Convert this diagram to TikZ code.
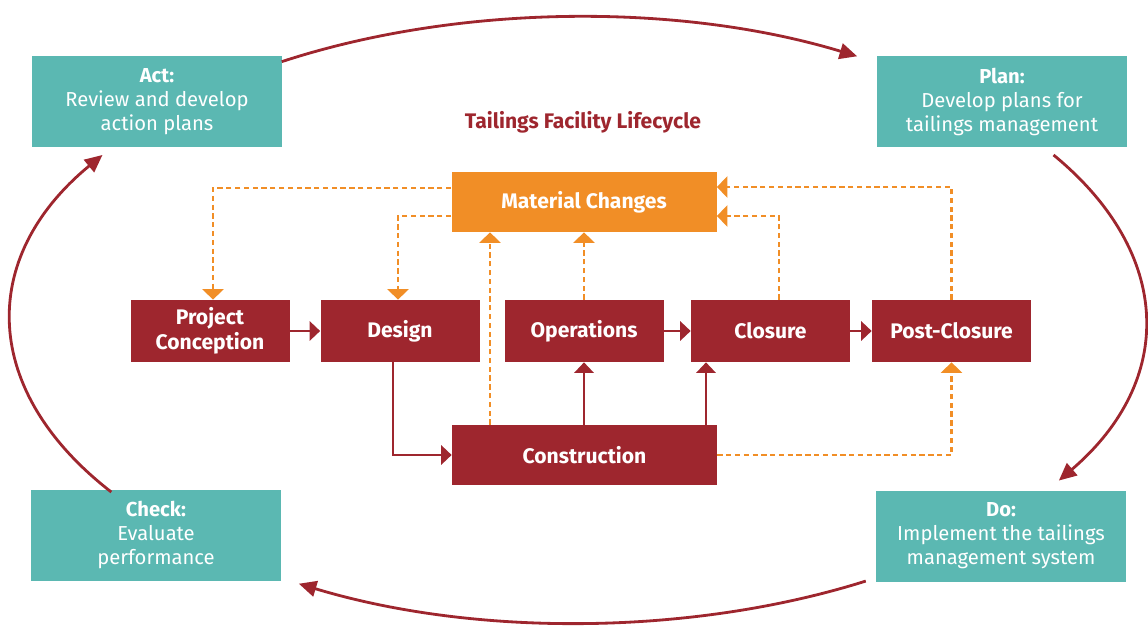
\documentclass[tikz,border=0pt]{standalone}
\usepackage{fontspec}
\setmainfont{Fira Sans}
\usetikzlibrary{arrows.meta,calc,positioning}
\definecolor{pdcateal}{HTML}{5BB8B2}
\definecolor{lifered}{HTML}{9E262E}
\definecolor{chgorange}{HTML}{F18E26}
\tikzset{
  pdca/.style={fill=pdcateal,text=white,minimum width=5cm,minimum height=1.82cm,align=center,inner sep=0pt,font=\fontsize{11.5}{13.6}\selectfont},
  stage/.style={fill=lifered,text=white,minimum width=3.18cm,minimum height=1.24cm,align=center,inner sep=0pt,font=\bfseries\fontsize{12}{14.2}\selectfont},
  widestage/.style={stage,minimum width=5.3cm,minimum height=1.2cm},
  flow/.style={lifered,line width=1.3pt,-{Triangle[width=11pt,length=6pt]}},
  chg/.style={chgorange,line width=1.4pt,dash pattern=on 3pt off 2pt,-{Triangle[width=12pt,length=6pt]}},
  cyc/.style={lifered,line width=1.6pt,-{Triangle[width=9pt,length=10pt]}}
}
\begin{document}
\begin{tikzpicture}
\useasboundingbox (0,0) rectangle (22.96,12.5);
\coordinate (mid) at (11.56,6.10);

\node[pdca] (act) at (3.14,10.46) {\textbf{Act:}\\Review and develop\\action plans};
\node[pdca] (plan) at (20.04,10.46) {\textbf{Plan:}\\Develop plans for\\tailings management};
\node[pdca] (do) at (20.02,1.78) {\textbf{Do:}\\Implement the tailings\\management system};
\node[pdca] (check) at (3.12,1.80) {\textbf{Check:}\\Evaluate\\performance};

\node[lifered,font=\bfseries\fontsize{12}{14}\selectfont] (title) at (11.66,10.06) {Tailings Facility Lifecycle};

\node[widestage,fill=chgorange] (mc) at (11.68,8.46) {Material Changes};
\node[stage] (conc) at (4.2,5.88) {Project\\Conception};
\node[stage] (design) at (8.0,5.88) {Design};
\node[stage] (ops) at (11.68,5.88) {Operations};
\node[stage] (closure) at (15.41,5.88) {Closure};
\node[stage] (post) at (19.03,5.88) {Post-Closure};
\node[widestage] (constr) at (11.69,3.40) {Construction};

% PDCA cycle
\draw[cyc] (mid) ++(121.5:11.34cm and 6.06cm) arc[start angle=121.5,end angle=60.5,x radius=11.34cm,y radius=6.06cm];
\draw[cyc] (mid) ++(33:11.34cm and 6.06cm) arc[start angle=33,end angle=-32,x radius=11.34cm,y radius=6.06cm];
\draw[cyc] (mid) ++(-59.5:11.34cm and 6.06cm) arc[start angle=-59.5,end angle=-119.5,x radius=11.34cm,y radius=6.06cm];
\draw[cyc] (mid) ++(214.6:11.34cm and 6.06cm) arc[start angle=214.6,end angle=147,x radius=11.34cm,y radius=6.06cm];

% lifecycle
\draw[flow] (conc) -- (design);
\draw[flow] (ops) -- (closure);
\draw[flow] (closure) -- (post);
\draw[flow] ([xshift=-0.14cm]design.south) |- (constr.west);
\draw[flow] (constr.north -| ops.south) -- (ops.south);
\draw[flow] ([xshift=-1.29cm]closure.south |- constr.north) -- ([xshift=-1.29cm]closure.south);

% material changes
\draw[chg] ([yshift=0.28cm]mc.west) -| ([xshift=0.06cm]conc.north);
\draw[chg] ([yshift=-0.28cm]mc.west) -| ([xshift=-0.04cm]design.north);
\draw[chg] ([xshift=-1.89cm]constr.north) -- ([xshift=-1.89cm]constr.north |- mc.south);
\draw[chg] (ops.north) -- (mc.south);
\draw[chg] ([xshift=0.17cm]closure.north) |- ([yshift=-0.28cm]mc.east);
\draw[chg] (post.north) |- ([yshift=0.3cm]mc.east);
\draw[chg] (constr.east) -| (post.south);
\end{tikzpicture}
\end{document}
